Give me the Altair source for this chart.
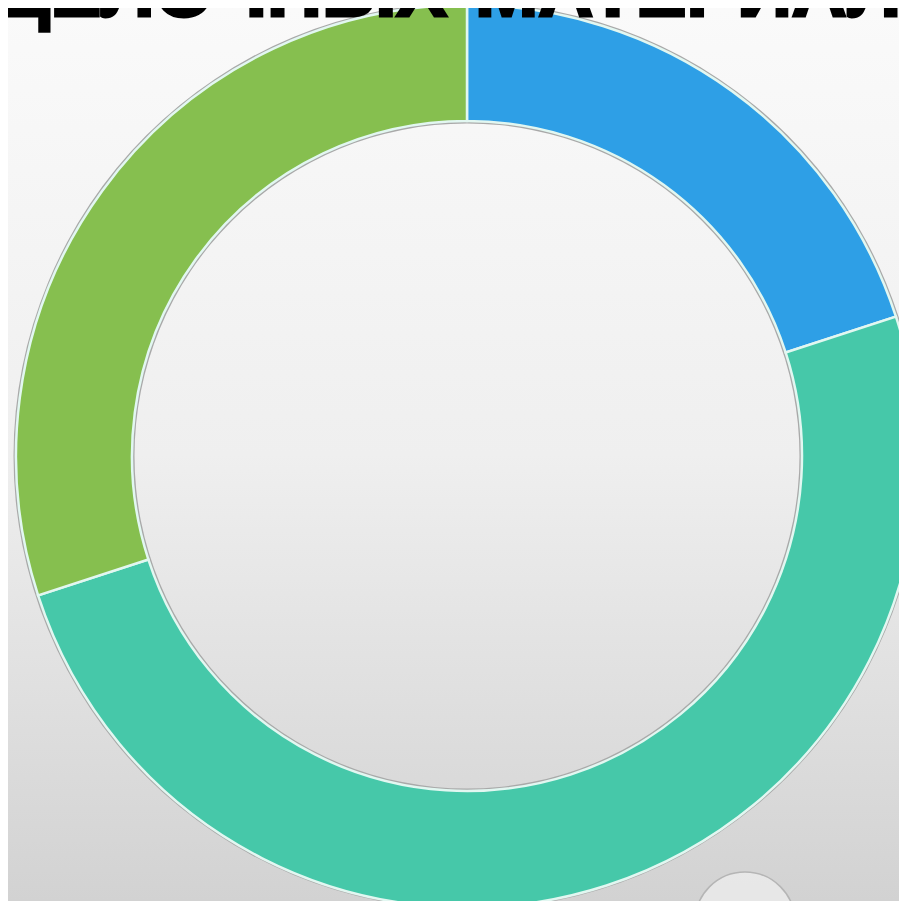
import altair as alt
import pandas as pd

# ---- data ----
categories = ["Синий", "Бирюзовый", "Зелёный"]
values = [20, 50, 30]
colors = ["#2e9fe6", "#46c8a9", "#86bf4f"]
order = [1, 2, 3]
title_left = "ПОДЕЛОЧНЫХ"
title_right = "МАТЕРИАЛОВ"

W, H = 891, 893
CX, CY = 459, 448
R_OUT, R_IN = 451, 335

df = pd.DataFrame({"category": categories, "value": values, "order": order})
one = pd.DataFrame({"a": [1]})

bg = alt.Chart(one).mark_rect(
    color=alt.LinearGradient(
        gradient="linear", x1=0, y1=0, x2=0, y2=1,
        stops=[alt.GradientStop(color="#fafafa", offset=0),
               alt.GradientStop(color="#efefef", offset=0.5),
               alt.GradientStop(color="#d2d2d2", offset=1)],
    )
).encode(x=alt.value(0), x2=alt.value(W), y=alt.value(0), y2=alt.value(H))

border = alt.Chart(one).mark_arc(
    outerRadius=R_OUT + 2.5, innerRadius=R_IN - 2.5, color="#a9a9a9"
).encode(theta=alt.Theta("a:Q", scale=alt.Scale(domain=[0, 1])), x=alt.value(CX), y=alt.value(CY))

ring = alt.Chart(df).mark_arc(
    outerRadius=R_OUT, innerRadius=R_IN, stroke="#e2f7f1", strokeWidth=2.5
).encode(
    theta=alt.Theta("value:Q", stack=True),
    color=alt.Color("category:N", scale=alt.Scale(domain=categories, range=colors), legend=None),
    order=alt.Order("order:O"),
    x=alt.value(CX), y=alt.value(CY),
)

tl = alt.Chart(one).mark_text(
    text=title_left, font="Liberation Sans", fontWeight="bold", fontSize=76,
    align="right", baseline="alphabetic", color="#000000", stroke="#000000", strokeWidth=3
).encode(x=alt.value(439), y=alt.value(8))

tr = alt.Chart(one).mark_text(
    text=title_right, font="Liberation Sans", fontWeight="bold", fontSize=76,
    align="left", baseline="alphabetic", color="#000000", stroke="#000000", strokeWidth=3
).encode(x=alt.value(467), y=alt.value(8))

bubble = alt.Chart(one).mark_point(
    shape="circle", size=10000, filled=True, fill="#ececec", fillOpacity=0.8,
    stroke="#b5b5b5", strokeWidth=1.5
).encode(x=alt.value(737), y=alt.value(914))

chart = alt.layer(bg, border, ring, bubble, tl, tr).resolve_scale(
    theta="independent"
).properties(
    width=W, height=H,
    autosize=alt.AutoSizeParams(type="none"),
    padding=0,
).configure_view(stroke=None)

chart.save("out.html", embed_options={"renderer": "svg", "actions": False})
